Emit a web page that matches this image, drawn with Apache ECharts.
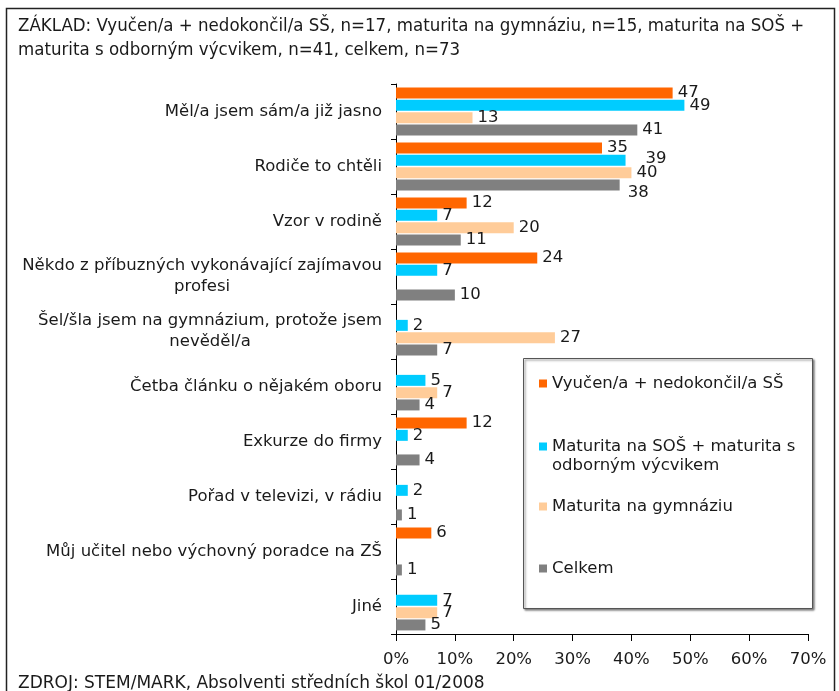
<!DOCTYPE html>
<html><head><meta charset="utf-8">
<script src="https://cdn.jsdelivr.net/npm/echarts@6/dist/echarts.min.js"></script>
<style>html,body{margin:0;padding:0;background:#fff}#c{width:839px;height:691px}</style>
</head><body><div id="c"></div>
<script>
const categories = [
  'Měl/a jsem sám/a již jasno',
  'Rodiče to chtěli',
  'Vzor v rodině',
  'Někdo z příbuzných vykonávající zajímavou\nprofesi',
  'Šel/šla jsem na gymnázium, protože jsem\nnevěděl/a',
  'Četba článku o nějakém oboru',
  'Exkurze do firmy',
  'Pořad v televizi, v rádiu',
  'Můj učitel nebo výchovný poradce na ZŠ',
  'Jiné'
];
const seriesNames = [
  'Vyučen/a + nedokončil/a SŠ',
  'Maturita na SOŠ + maturita s\nodborným výcvikem',
  'Maturita na gymnáziu',
  'Celkem'
];
const vyucen   = [47, 35, 12, 24, null, null, 12, null, 6, null];
const maturSOS = [49, 39, 7, 7, 2, 5, 2, 2, null, 7];
const maturGym = [13, 40, 20, null, 27, 7, null, null, null, 7];
const celkem   = [41, 38, 11, 10, 7, 4, 4, 1, 1, 5];
const ticks = ['0%', '10%', '20%', '30%', '40%', '50%', '60%', '70%'];
const titleText = 'ZÁKLAD: Vyučen/a + nedokončil/a SŠ, n=17, maturita na gymnáziu, n=15, maturita na SOŠ +\nmaturita s odborným výcvikem, n=41, celkem, n=73';
const sourceText = 'ZDROJ: STEM/MARK, Absolventi středních škol 01/2008';

const colors = ['#FF6600', '#00CCFF', '#FFCC99', '#808080'];
const FONT = 'DejaVu Sans';
const FS = 16.5;
const TXT = '#1a1a1a';

function withOffsets(arr, offsets) {
  return arr.map((v, i) => offsets[i] ? { value: v, label: { offset: offsets[i] } } : v);
}
const seriesData = [
  vyucen,
  withOffsets(maturSOS, { 1: [15, -2] }),
  maturGym,
  withOffsets(celkem, { 1: [3, 8] })
];

const chart = echarts.init(document.getElementById('c'), null, { renderer: 'canvas' });

const legendTops = [374, 418, 497, 559];
const legends = seriesNames.map((n, i) => ({
  data: [n],
  left: 539,
  top: legendTops[i],
  padding: 0,
  itemWidth: 8, itemHeight: 8, icon: 'rect',
  formatter: name => (name.indexOf('\n') >= 0 ? '\n' + name : name),
  textStyle: { fontFamily: FONT, fontSize: FS, color: TXT, lineHeight: 19 },
  z: 10
}));

chart.setOption({
  animation: false,
  textStyle: { fontFamily: FONT },
  title: [
    { text: titleText, left: 13, top: 9,
      textStyle: { fontFamily: 'DejaVu Sans Condensed', fontSize: 18.5, fontWeight: 'normal', color: TXT, lineHeight: 24 } },
    { text: sourceText, left: 13, top: 670,
      textStyle: { fontFamily: FONT, fontSize: 17, fontWeight: 'normal', color: TXT } }
  ],
  legend: legends,
  grid: { left: 396, right: 31, top: 84, bottom: 57, containLabel: false },
  xAxis: {
    type: 'value', min: 0, max: 70, interval: 10,
    axisLine: { show: true, lineStyle: { color: '#000', width: 1 } },
    axisTick: { show: true, length: 7, lineStyle: { color: '#000' } },
    splitLine: { show: false },
    axisLabel: { formatter: v => ticks[Math.round(v / 10)], fontFamily: FONT, fontSize: FS, color: TXT, margin: 17 }
  },
  yAxis: {
    type: 'category', data: categories, inverse: true,
    axisLine: { show: true, lineStyle: { color: '#000', width: 1 } },
    axisTick: { show: true, length: 5, alignWithLabel: false, lineStyle: { color: '#000' } },
    axisLabel: {
      fontFamily: FONT, fontSize: FS, color: TXT, margin: 14, lineHeight: 21,
      formatter: v => v.split('\n').map(s => '{c|' + s + '}').join('\n'),
      rich: { c: { align: 'center', fontFamily: FONT, fontSize: FS, color: TXT, lineHeight: 21 } }
    }
  },
  series: seriesNames.map((n, i) => ({
    name: n, type: 'bar', data: seriesData[i],
    barCategoryGap: '13%', barGap: '12%',
    itemStyle: { color: colors[i] },
    label: { show: true, position: 'right', distance: 5, fontFamily: FONT, fontSize: FS, color: TXT }
  })),
  graphic: [
    { type: 'rect', shape: { x: 6.5, y: 8.5, width: 828, height: 700 },
      style: { fill: 'none', stroke: '#222', lineWidth: 1.5 }, z: 0, silent: true },
    { type: 'rect', shape: { x: 523.5, y: 358.5, width: 289, height: 250 },
      style: { fill: '#fff', stroke: '#555', lineWidth: 1, shadowBlur: 2, shadowOffsetX: 1.5, shadowOffsetY: 1.5, shadowColor: 'rgba(0,0,0,0.5)' }, z: 5, silent: true }
  ]
});
</script></body></html>
